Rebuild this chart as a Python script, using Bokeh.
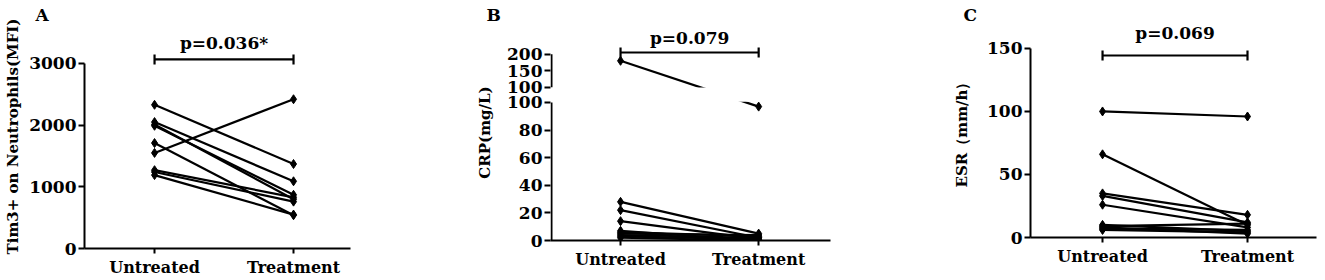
from bokeh.plotting import figure
from bokeh.models import FixedTicker, Label, ColumnDataSource
from bokeh.layouts import row
from bokeh.embed import file_html
from bokeh.resources import INLINE

# ---------------- data ----------------
groups = ["Untreated", "Treatment"]
group_pos = [1, 2]

tim3_untreated = [2330, 2050, 2010, 1990, 1710, 1550, 1270, 1240, 1190]
tim3_treatment = [1370, 1090, 800, 870, 540, 2420, 830, 760, 550]
tim3_ticks = [0, 1000, 2000, 3000]
tim3_p = "p=0.036*"

crp_untreated = [180, 28, 22, 14, 7, 6, 5, 4, 3, 2]
crp_treatment = [97, 5, 2, 1, 0, 3, 4, 2, 1, 0]
crp_ticks = [0, 20, 40, 60, 80, 100, 150, 200]
crp_p = "p=0.079"

esr_untreated = [100, 66, 35, 33, 26, 10, 9, 8, 7, 6]
esr_treatment = [96, 10, 18, 12, 8, 5, 11, 3, 6, 4]
esr_ticks = [0, 50, 100, 150]
esr_p = "p=0.069"

FONT = "DejaVu Serif"

# broken-axis transform for CRP: 0-100 linear, gap, then compressed 100-200
BREAK_AT = 100
BREAK_RESTART = 111
UPPER_SCALE = 0.24


def crp_map(v):
    return v if v <= BREAK_AT else BREAK_RESTART + (v - BREAK_AT) * UPPER_SCALE


TOP = 24
BOTTOM = 31


def base_fig(width, height, bl, br, xr, yr, letter, letter_offset):
    p = figure(width=width, height=height, x_range=xr, y_range=yr,
               output_backend="svg", toolbar_location=None,
               min_border_left=bl, min_border_right=br,
               min_border_top=TOP, min_border_bottom=BOTTOM)
    p.outline_line_color = None
    p.grid.visible = False
    p.background_fill_color = "white"
    p.border_fill_color = "white"
    p.title.text = letter
    p.title.align = "left"
    p.title.offset = letter_offset
    p.title.standoff = 0
    p.title.text_font = FONT
    p.title.text_font_style = "bold"
    p.title.text_font_size = "17px"
    p.title.text_color = "black"
    for ax in (p.xaxis[0], p.yaxis[0]):
        ax.axis_line_width = 2
        ax.axis_line_color = "black"
        ax.major_tick_line_width = 2
        ax.major_tick_line_color = "black"
        ax.major_tick_in = 0
        ax.minor_tick_line_color = None
        ax.major_label_text_font = FONT
        ax.major_label_text_font_style = "bold"
        ax.major_label_text_color = "black"
        ax.axis_label_text_font = FONT
        ax.axis_label_text_font_style = "bold"
        ax.axis_label_text_font_size = "15px"
        ax.axis_label_text_color = "black"
    p.xaxis.ticker = FixedTicker(ticks=group_pos)
    p.xaxis.major_label_overrides = {g: n for g, n in zip(group_pos, groups)}
    p.xaxis.major_label_text_font_size = "16px"
    p.xaxis.major_tick_out = 5
    p.xaxis.major_label_standoff = 4
    p.yaxis.major_label_text_font_size = "17px"
    p.yaxis.major_tick_out = 6
    p.yaxis.major_label_standoff = 2
    return p


def draw_pairs(p, u, t):
    src = ColumnDataSource(dict(x0=[group_pos[0]] * len(u), y0=u,
                                x1=[group_pos[1]] * len(t), y1=t))
    p.segment(x0="x0", y0="y0", x1="x1", y1="y1", source=src,
              line_color="black", line_width=2.2)
    p.scatter(x=[group_pos[0]] * len(u), y=u, marker="diamond", size=9,
              fill_color="black", line_color="black")
    p.scatter(x=[group_pos[1]] * len(t), y=t, marker="diamond", size=9,
              fill_color="black", line_color="black")


def sig_bar(p, y, half, ytext, text):
    p.segment(x0=[group_pos[0]], y0=[y], x1=[group_pos[1]], y1=[y],
              line_color="black", line_width=2.2)
    p.segment(x0=group_pos, y0=[y - half] * 2, x1=group_pos, y1=[y + half] * 2,
              line_color="black", line_width=2.2)
    p.add_layout(Label(x=sum(group_pos) / 2, y=ytext, text=text,
                       text_font=FONT, text_font_style="bold",
                       text_font_size="17px", text_align="center",
                       text_baseline="middle", text_color="black"))


# ---------------- panel A ----------------
pa = base_fig(440, 279, 84, 90, (0.496, 2.41), (0, 3632), "A", -49)
pa.yaxis.ticker = FixedTicker(ticks=tim3_ticks)
pa.yaxis.bounds = (tim3_ticks[0], tim3_ticks[-1])
pa.yaxis.axis_label = "Tim3+ on Neutrophils(MFI)"
pa.yaxis.axis_label_standoff = 4
draw_pairs(pa, tim3_untreated, tim3_treatment)
sig_bar(pa, 3065, 80, 3340, tim3_p)

# ---------------- panel B (broken axis) ----------------
pb = base_fig(480, 271, 110, 90, (0.493, 2.52), (0, 156.5), "B", -64)
mapped_ticks = [crp_map(v) for v in crp_ticks] + [BREAK_RESTART]
pb.yaxis.ticker = FixedTicker(ticks=mapped_ticks)
pb.yaxis.major_label_overrides = {crp_map(v): str(v) for v in crp_ticks}
pb.yaxis.major_label_overrides[BREAK_RESTART] = str(BREAK_AT)
pb.yaxis.major_label_overrides[BREAK_AT] = str(BREAK_AT)
pb.yaxis.bounds = (0, crp_map(crp_ticks[-1]))
pb.yaxis.axis_line_color = None
pb.yaxis.axis_label = "CRP(mg/L)"
pb.yaxis.axis_label_standoff = 10
draw_pairs(pb, [crp_map(v) for v in crp_untreated],
           [crp_map(v) for v in crp_treatment])
x0b = pb.x_range.start
# white gap of the axis break
pb.quad(left=[x0b], right=[pb.x_range.end], bottom=[BREAK_AT + 0.6],
        top=[BREAK_RESTART - 0.2], fill_color="white", line_color=None)
ax_off = 1.0 / 138
pb.segment(x0=[x0b + ax_off] * 2, y0=[0, BREAK_RESTART],
           x1=[x0b + ax_off] * 2, y1=[BREAK_AT, crp_map(crp_ticks[-1])],
           line_color="black", line_width=2)
sig_bar(pb, 136.2, 3.6, 146.4, crp_p)

# ---------------- panel C ----------------
pc = base_fig(403, 268, 110, 7, (0.503, 2.476), (0, 169), "C", -67)
pc.yaxis.ticker = FixedTicker(ticks=esr_ticks)
pc.yaxis.bounds = (esr_ticks[0], esr_ticks[-1])
pc.yaxis.axis_label = "ESR（mm/h）"
pc.yaxis.axis_label_standoff = 13
draw_pairs(pc, esr_untreated, esr_treatment)
sig_bar(pc, 144.4, 4, 161.9, esr_p)

layout = row(pa, pb, pc)
open("out.html", "w").write(file_html(layout, INLINE))
